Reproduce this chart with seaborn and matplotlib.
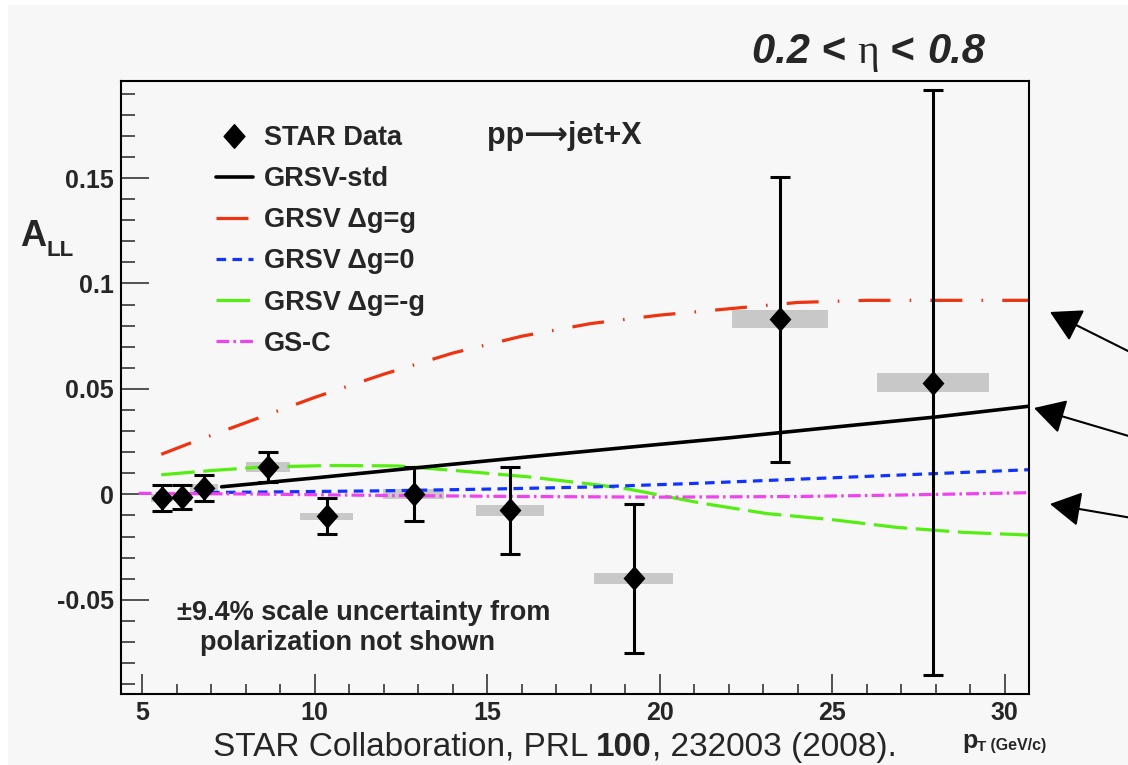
import matplotlib
matplotlib.use("Agg")
import matplotlib.pyplot as plt
import seaborn as sns
from matplotlib.lines import Line2D
from matplotlib.patches import Rectangle
from matplotlib.path import Path
from matplotlib.ticker import MultipleLocator, FuncFormatter

# ---------------- data ----------------
pt_x = [5.56, 6.14, 6.79, 8.65, 10.34, 12.87, 15.65, 19.24, 23.48, 27.92]
pt_y = [-0.0017, -0.0013, 0.0030, 0.0130, -0.0104, 0.0002, -0.0076, -0.0398, 0.0830, 0.0530]
pt_err = [0.0061, 0.0058, 0.0062, 0.0070, 0.0086, 0.0129, 0.0207, 0.0352, 0.0675, 0.1385]
sys_w = [0.62, 0.60, 0.80, 1.26, 1.53, 1.77, 1.96, 2.30, 2.78, 3.25]
sys_h = [0.0020, 0.0020, 0.0020, 0.0023, 0.0018, 0.0022, 0.0025, 0.0025, 0.0043, 0.0045]

std_x = [7.3, 10, 13, 16, 19, 22, 25, 28, 30.7]
std_y = [0.0036, 0.0078, 0.0127, 0.0175, 0.0222, 0.0268, 0.0318, 0.0367, 0.0418]
max_x = [5.55, 6.5, 8, 10, 12, 14, 16, 18, 20, 22, 24, 26, 28, 30.7]
max_y = [0.019, 0.025, 0.034, 0.046, 0.057, 0.067, 0.075, 0.081, 0.085, 0.088, 0.091, 0.092, 0.092, 0.092]
zero_x = [6.5, 9, 12, 15, 18, 21, 24, 27, 30.7]
zero_y = [0.0008, 0.0012, 0.0017, 0.0025, 0.0035, 0.0052, 0.0072, 0.0092, 0.0117]
min_x = [5.55, 7, 8.5, 10.5, 12.4, 14.3, 16.2, 18.2, 19.1, 21.15, 23.1, 25, 26.9, 28.8, 30.7]
min_y = [0.0093, 0.0113, 0.0130, 0.0137, 0.0135, 0.0110, 0.0083, 0.0045, 0.0025, -0.0040,
         -0.0091, -0.0120, -0.0157, -0.0180, -0.0193]
gsc_x = [4.9, 8, 12, 16, 20, 24, 27, 30.7]
gsc_y = [0.0005, 0.0002, -0.0005, -0.0010, -0.0013, -0.0010, -0.0003, 0.0008]

labels = ["STAR Data", "GRSV-std", "GRSV \u0394g=g", "GRSV \u0394g=0", "GRSV \u0394g=-g", "GS-C"]

# ---------------- style ----------------
BG = "#f7f7f7"
C_RED, C_BLUE, C_GREEN, C_MAG = "#ee3311", "#1133ff", "#55ee11", "#ee44ee"
LS_RED = (0, (10, 6, 0.5, 6))
LS_GREEN = (0, (10.5, 2.7))
LS_BLUE = (0, (3, 2))
LS_MAG = (0, (4, 1.3, 0.8, 1.3))
LW = 2.3

sns.set_theme(style="ticks")
plt.rcParams["font.family"] = ["Liberation Sans", "DejaVu Sans"]
plt.rcParams["font.weight"] = "bold"
plt.rcParams["axes.unicode_minus"] = False

W, H = 1128, 765
fig = plt.figure(figsize=(W / 100, H / 100), dpi=100, facecolor="white")
fig.patches.append(Rectangle((8 / W, 0), 1, 1 - 5 / H, transform=fig.transFigure,
                             facecolor=BG, edgecolor="none", zorder=-10))

def fx(px):
    return px / W

def fy(py):
    return 1 - py / H

ax = fig.add_axes([fx(120.7), fy(693.7), (1029 - 120.7) / W, (693.7 - 81) / H])
ax.set_facecolor(BG)

# systematic boxes
ax.bar(pt_x, [2 * h for h in sys_h], width=sys_w,
       bottom=[y - h for y, h in zip(pt_y, sys_h)],
       color="#c8c8c8", linewidth=0, zorder=1)

# theory curves
sns.lineplot(x=max_x, y=max_y, color=C_RED, linestyle=LS_RED, linewidth=LW, ax=ax, zorder=2)
sns.lineplot(x=min_x, y=min_y, color=C_GREEN, linestyle=LS_GREEN, linewidth=LW, ax=ax, zorder=2)
sns.lineplot(x=zero_x, y=zero_y, color=C_BLUE, linestyle=LS_BLUE, linewidth=LW, ax=ax, zorder=2)
sns.lineplot(x=gsc_x, y=gsc_y, color=C_MAG, linestyle=LS_MAG, linewidth=LW, ax=ax, zorder=2)
sns.lineplot(x=std_x, y=std_y, color="black", linewidth=LW + 0.3, ax=ax, zorder=2)

# data points
ax.errorbar(pt_x, pt_y, yerr=pt_err, fmt="none", ecolor="black", elinewidth=2.2,
            capsize=7, capthick=2.2, zorder=3)
diamond = Path([(0, 1), (0.88, 0), (0, -1), (-0.88, 0), (0, 1)],
               [Path.MOVETO, Path.LINETO, Path.LINETO, Path.LINETO, Path.CLOSEPOLY])
sns.scatterplot(x=pt_x, y=pt_y, marker=diamond, s=320, color="black",
                edgecolor="black", linewidth=0, zorder=4, ax=ax)

# axes
ax.set_xlim(4.375, 30.7)
ax.set_ylim(-0.0945, 0.196)
ax.xaxis.set_major_locator(MultipleLocator(5))
ax.xaxis.set_minor_locator(MultipleLocator(1))
ax.yaxis.set_major_locator(MultipleLocator(0.05))
ax.yaxis.set_minor_locator(MultipleLocator(0.01))
ax.yaxis.set_major_formatter(FuncFormatter(lambda v, p: "%g" % round(v, 4)))
ax.xaxis.set_major_formatter(FuncFormatter(lambda v, p: "%g" % v))
ax.tick_params(axis="x", which="major", direction="in", length=14.4, width=1.1,
               pad=5, labelsize=18, top=False)
ax.tick_params(axis="x", which="minor", direction="in", length=7.2, width=1.1, top=False)
ax.tick_params(axis="y", which="major", direction="in", length=20, width=1.1,
               pad=5, labelsize=18, right=False)
ax.tick_params(axis="y", which="minor", direction="in", length=10, width=1.1, right=False)
for s in ax.spines.values():
    s.set_visible(True)
    s.set_linewidth(1.5)
    s.set_color("black")
ax.set_xlabel("")
ax.set_ylabel("")

# legend
handles = [
    Line2D([], [], marker=diamond, markersize=17, color="black", linestyle="none"),
    Line2D([], [], color="black", lw=LW + 0.3),
    Line2D([], [], color=C_RED, lw=LW, linestyle=LS_RED),
    Line2D([], [], color=C_BLUE, lw=LW, linestyle=LS_BLUE),
    Line2D([], [], color=C_GREEN, lw=LW, linestyle=LS_GREEN),
    Line2D([], [], color=C_MAG, lw=LW, linestyle=LS_MAG),
]
leg = ax.legend(handles, labels, loc="upper left",
                bbox_to_anchor=(fx(216), fy(125)), bbox_transform=fig.transFigure,
                frameon=False, borderpad=0, borderaxespad=0, handlelength=1.35,
                handletextpad=0.42, labelspacing=0.56,
                prop={"weight": "bold", "size": 19.5})

# texts inside the plot
fig.text(fx(487), fy(136), "pp\u27f6jet+X", fontsize=22, fontweight="bold", va="center", ha="left")
fig.text(fx(177), fy(613), "\u00b19.4% scale uncertainty from", fontsize=19.5,
         fontweight="bold", va="center", ha="left")
fig.text(fx(200), fy(643), "polarization not shown", fontsize=19.5,
         fontweight="bold", va="center", ha="left")

# eta range title
ETA_FS = 30
t1 = fig.text(fx(752), fy(72), "0.2 ", fontsize=ETA_FS, fontweight="bold", fontstyle="italic",
              va="bottom", ha="left")
t2 = ax.annotate("< ", xy=(1, 0), xycoords=t1, fontsize=ETA_FS, fontweight="bold",
                 va="bottom", ha="left", annotation_clip=False)
t3 = ax.annotate("\u03b7", xy=(1, 0), xycoords=t2, fontsize=ETA_FS, fontweight="normal",
                 family=["Liberation Serif", "DejaVu Serif"], va="bottom", ha="left",
                 annotation_clip=False)
t4 = ax.annotate(" < ", xy=(1, 0), xycoords=t3, fontsize=ETA_FS, fontweight="bold",
                 va="bottom", ha="left", annotation_clip=False)
t5 = ax.annotate("0.8", xy=(1, 0), xycoords=t4, fontsize=ETA_FS, fontweight="bold",
                 fontstyle="italic", va="bottom", ha="left", annotation_clip=False)

# y label A_LL
a1 = fig.text(fx(20), fy(246), "A", fontsize=26, fontweight="bold", va="baseline", ha="left")
ax.annotate("LL", xy=(1, 0), xycoords=a1, xytext=(0, -5), textcoords="offset points",
            fontsize=16, fontweight="bold", va="bottom", ha="left", annotation_clip=False)

# x label p_T (GeV/c)
p1 = fig.text(fx(962), fy(748), "p", fontsize=18, fontweight="bold", va="baseline", ha="left")
p2 = ax.annotate("T", xy=(1, 0), xycoords=p1, xytext=(0, -1), textcoords="offset points",
                 fontsize=11, fontweight="bold", va="bottom", ha="left", annotation_clip=False)
ax.annotate(" (GeV/c)", xy=(1, 1), xycoords=p2, xytext=(0, 2), textcoords="offset points",
            fontsize=11.5, fontweight="bold", va="top", ha="left", annotation_clip=False)

# footer citation
FOOT_FS = 24
f1 = fig.text(fx(213), fy(756), "STAR Collaboration, PRL ", fontsize=FOOT_FS, fontweight="normal",
              va="baseline", ha="left")
f2 = ax.annotate("100", xy=(1, 0), xycoords=f1, fontsize=FOOT_FS, fontweight="bold",
                 va="bottom", ha="left", annotation_clip=False)
ax.annotate(", 232003 (2008).", xy=(1, 0), xycoords=f2, fontsize=FOOT_FS, fontweight="normal",
            va="bottom", ha="left", annotation_clip=False)

# arrows on the right side
arrow_kw = dict(arrowstyle="-|>,head_length=0.8,head_width=0.45", color="black", lw=1.5,
                shrinkA=0, shrinkB=0, mutation_scale=24)
for tip, tail in [((1050, 312), (1132, 353)), ((1034, 408), (1132, 437)), ((1050, 504), (1132, 518))]:
    ax.annotate("", xy=(tip[0], H - tip[1]), xycoords="figure pixels",
                xytext=(tail[0], H - tail[1]), textcoords="figure pixels",
                arrowprops=arrow_kw, annotation_clip=False)

fig.savefig("out.png", dpi=100, facecolor=fig.get_facecolor())
